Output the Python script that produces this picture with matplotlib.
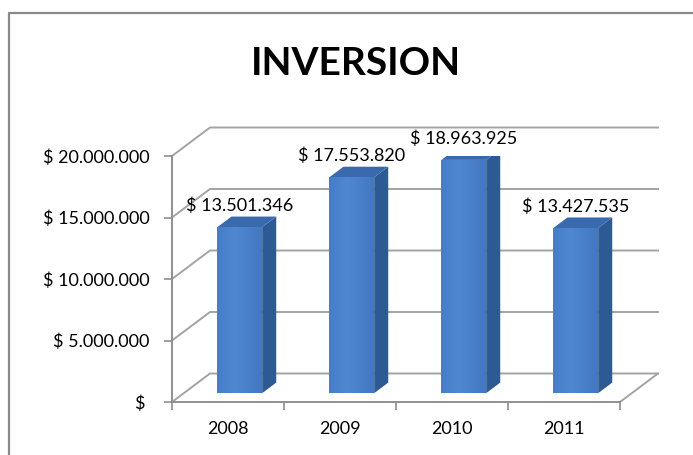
import matplotlib.pyplot as plt
import numpy as np
from matplotlib.patches import Polygon
from matplotlib.lines import Line2D

# data
years = ['2008', '2009', '2010', '2011']
inversion = [13501346, 17553820, 18963925, 13427535]
yticks = [0, 5000000, 10000000, 15000000, 20000000]
ytick_labels = ['$ ', '$ 5.000.000', '$ 10.000.000', '$ 15.000.000', '$ 20.000.000']


def pesos(v):
    return '$ ' + f'{v:,}'.replace(',', '.')


plt.rcParams['font.family'] = ['Lato', 'DejaVu Sans']

W, H = 693, 455
fig = plt.figure(figsize=(W / 100, H / 100), dpi=100)
# front plane of the fake 3d box
ax = fig.add_axes([172 / W, 1 - 402 / H, 448 / W, 246 / H])

# depth of the box (back wall offset), in data units
DX = 38 / 448 * 4
DY = 28.5 / 246 * 20000000

grid = '#A3A3A3'
axis_col = '#8F8F8F'
front_dark = np.array([0.25, 0.46, 0.74])
front_light = np.array([0.31, 0.53, 0.82])
side_col = '#2D5A94'
top_col = '#3B69AD'

# back wall + left wall gridlines
for v in yticks:
    ax.plot([0, DX, 4 + DX], [v, v + DY, v + DY], color=grid, lw=1.4,
            clip_on=False, zorder=1)
# floor right edge
ax.plot([4, 4 + DX], [0, DY], color=grid, lw=1.4, clip_on=False, zorder=1)

# bars: front face, side, top
d0, d1 = 0.31, 0.68
bw = 0.4
xs = np.arange(len(years)) + 0.5
bars = ax.bar(xs + d0 * DX, inversion, width=bw, bottom=d0 * DY,
              color=front_dark, lw=0, zorder=3)

grad = np.linspace(0, 1, 50)
grad = 1 - np.abs(grad - 0.4) * 1.4
grad = np.clip(grad, 0, 1)
img = front_dark[None, None, :] + (front_light - front_dark)[None, None, :] * grad[None, :, None]

for i, (b, v) in enumerate(zip(bars, inversion)):
    x0 = xs[i] - bw / 2
    x1 = xs[i] + bw / 2
    im = ax.imshow(img, extent=[x0 + d0 * DX, x1 + d0 * DX, d0 * DY, v + d0 * DY],
                   aspect='auto', zorder=3.5, interpolation='bilinear')
    im.set_clip_path(b)
    side = Polygon([(x1 + d0 * DX, d0 * DY), (x1 + d1 * DX, d1 * DY),
                    (x1 + d1 * DX, v + d1 * DY), (x1 + d0 * DX, v + d0 * DY)],
                   closed=True, facecolor=side_col, lw=0, zorder=3)
    top = Polygon([(x0 + d0 * DX, v + d0 * DY), (x1 + d0 * DX, v + d0 * DY),
                   (x1 + d1 * DX, v + d1 * DY), (x0 + d1 * DX, v + d1 * DY)],
                  closed=True, facecolor=top_col, lw=0, zorder=3)
    ax.add_patch(side)
    ax.add_patch(top)
    ax.annotate(pesos(v), xy=(xs[i] + d0 * DX, v + d1 * DY), xytext=(0, 2),
                textcoords='offset points', ha='center', va='bottom',
                fontsize=13, annotation_clip=False, zorder=5)

ax.set_xlim(0, 4)
ax.set_ylim(0, 20000000)
ax.patch.set_visible(False)

# axes
for s in ['top', 'right']:
    ax.spines[s].set_visible(False)
for s in ['left', 'bottom']:
    ax.spines[s].set_color(axis_col)
    ax.spines[s].set_linewidth(1.4)
ax.set_yticks(yticks)
ax.set_yticklabels(ytick_labels, fontsize=13)
ax.tick_params(axis='y', length=6, width=1.2, color=axis_col, pad=10)
ax.set_xticks(range(5))
ax.set_xticklabels([])
ax.tick_params(axis='x', length=6, width=1.2, color=axis_col)
ax.set_xticks(xs, minor=True)
ax.set_xticklabels(years, minor=True, fontsize=13)
ax.tick_params(axis='x', which='minor', length=0, pad=14)

fig.text(356 / W, 1 - 75 / H, 'INVERSION', ha='center', va='baseline',
         fontsize=28, fontweight='bold')

# outer chart border
fig.add_artist(Line2D([9 / W, 9 / W, 1], [0, 1 - 13 / H, 1 - 13 / H],
                      transform=fig.transFigure, color='#8A8A8A', lw=1.6))

fig.savefig('out.png', dpi=100)
